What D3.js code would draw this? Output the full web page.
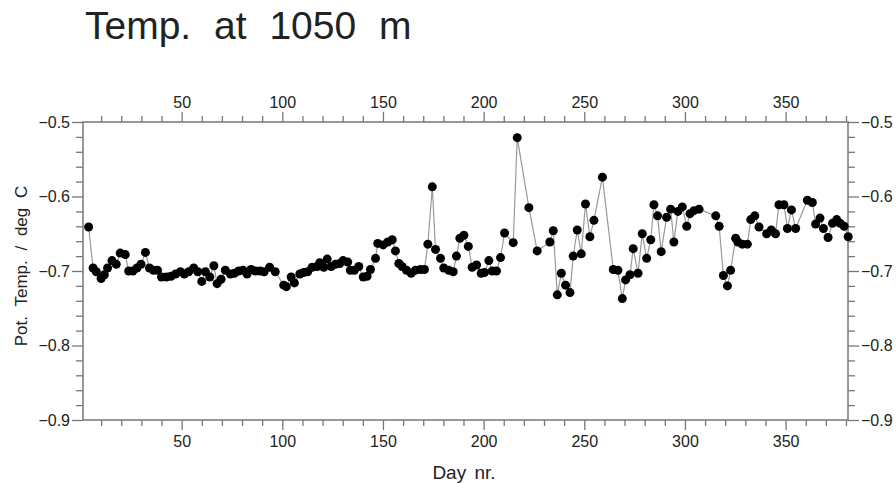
<!DOCTYPE html>
<html lang="en">
<head>
<meta charset="UTF-8">
<title>Temp. at 1050 m</title>
<script src="https://d3js.org/d3.v7.min.js"></script>
<style>
    body { margin: 0; background: #fff; }
    text { font-family: "Liberation Sans", Arial, sans-serif; fill: #222; }
    .axis path { display: none; }
    .axis line { stroke: #777; stroke-width: 1.3; }
</style>
</head>
<body>
<script>
    // day number of each sample
    const days = [
        3.8, 6, 7.6, 10, 11.6, 13.2, 15.4, 17.5, 19.5, 22, 23.7, 25.8, 27.8, 29.8, 32, 34, 36, 38, 40, 42.4,
        44.7, 47, 49.4, 51.3, 53.5, 56, 58, 60, 61.8, 64, 66, 67.6, 69.6, 71.7, 74.2, 76.2, 78.3, 80.5, 82.5, 84.5,
        86.6, 89, 91, 93.7, 96.5, 100.7, 102, 104.4, 106, 108.7, 110.6, 112.6, 114.8, 117.3, 118.6, 120.6, 122.3, 124.3, 126.4, 128.5,
        130.2, 132.5, 133.8, 135.8, 138, 140.2, 142.1, 143.8, 146.3, 147.4, 150.1, 152.4, 154.6, 156.2, 157.9, 159.5, 161.7, 164, 166.1, 168.6,
        170.6, 172.3, 174.5, 176.1, 178.6, 180.2, 182.7, 184.9, 186.5, 188.2, 190.2, 192.4, 194.3, 196.5, 198.8, 200.4, 202.6, 204.3, 206.4, 208.4,
        210.4, 214.7, 216.7, 222.5, 226.6, 232.9, 234.6, 236.6, 238.6, 240.7, 242.9, 244.5, 246.5, 248.5, 250.6, 252.8, 254.8, 259, 264.4, 266.7,
        268.9, 270.5, 272.7, 274.3, 276.7, 278.8, 281, 283, 284.6, 286.4, 288.2, 290.9, 292.9, 294.5, 296.5, 298.7, 300.9, 302.5, 304.5, 307,
        315.3, 317, 319.1, 321.1, 322.7, 325.2, 326.3, 328.5, 331, 332.7, 334.7, 336.8, 340.6, 342.9, 345, 346.7, 349.2, 350.9, 352.9, 355,
        360.8, 363.3, 364.9, 367.1, 368.8, 371.1, 373.3, 375.4, 377.1, 379.1, 381.1
    ];
    // potential temperature, deg C
    const temps = [
        -0.641, -0.696, -0.701, -0.710, -0.705, -0.696, -0.686, -0.691, -0.676, -0.678, -0.700, -0.700, -0.696, -0.691, -0.675, -0.696, -0.699, -0.699, -0.708, -0.708,
        -0.707, -0.704, -0.701, -0.704, -0.701, -0.696, -0.701, -0.714, -0.701, -0.708, -0.693, -0.717, -0.711, -0.699, -0.704, -0.703, -0.700, -0.699, -0.704, -0.698,
        -0.700, -0.700, -0.701, -0.695, -0.701, -0.719, -0.721, -0.708, -0.716, -0.704, -0.702, -0.701, -0.695, -0.694, -0.689, -0.695, -0.684, -0.694, -0.691, -0.690,
        -0.686, -0.688, -0.699, -0.699, -0.694, -0.708, -0.707, -0.698, -0.683, -0.663, -0.665, -0.661, -0.658, -0.673, -0.690, -0.694, -0.699, -0.703, -0.699, -0.698,
        -0.698, -0.664, -0.587, -0.671, -0.683, -0.696, -0.699, -0.701, -0.680, -0.656, -0.652, -0.667, -0.695, -0.692, -0.703, -0.702, -0.686, -0.700, -0.700, -0.682,
        -0.649, -0.662, -0.521, -0.615, -0.673, -0.661, -0.646, -0.732, -0.703, -0.719, -0.729, -0.680, -0.645, -0.677, -0.610, -0.654, -0.632, -0.574, -0.698, -0.699,
        -0.737, -0.712, -0.705, -0.670, -0.703, -0.650, -0.683, -0.658, -0.611, -0.626, -0.674, -0.628, -0.617, -0.661, -0.620, -0.614, -0.640, -0.623, -0.619, -0.617,
        -0.626, -0.640, -0.706, -0.720, -0.699, -0.656, -0.661, -0.664, -0.664, -0.631, -0.626, -0.641, -0.650, -0.645, -0.650, -0.611, -0.611, -0.643, -0.618, -0.643,
        -0.605, -0.608, -0.637, -0.629, -0.643, -0.655, -0.636, -0.631, -0.636, -0.640, -0.654
    ];
    const xMajor = [50, 100, 150, 200, 250, 300, 350];
    const yMajor = [-0.9, -0.8, -0.7, -0.6, -0.5];

    const width = 896, height = 484;
    const plot = {left: 83, right: 848, top: 122, bottom: 420};

    const data = days.map((d, i) => ({day: d, t: temps[i]}));

    const svg = d3.select("body").append("svg")
        .attr("width", width).attr("height", height);

    const x = d3.scaleLinear().domain([1, 381]).range([plot.left, plot.right]);
    const y = d3.scaleLinear().domain([-0.9, -0.5]).range([plot.bottom, plot.top]);

    const xMinor = d3.range(10, 381, 10).filter(v => v % 50 !== 0);
    const yMinor = d3.range(-0.9, -0.5, 0.02).map(v => +v.toFixed(2)).filter(v => Math.round(v * 100) % 10 !== 0);
    const fmtY = d3.format(".1f");

    // minor ticks
    svg.append("g").attr("class", "axis").attr("transform", `translate(0,${plot.bottom})`)
        .call(d3.axisBottom(x).tickValues(xMinor).tickSize(6).tickSizeOuter(0).tickFormat(""));
    svg.append("g").attr("class", "axis").attr("transform", `translate(0,${plot.top})`)
        .call(d3.axisTop(x).tickValues(xMinor).tickSize(6).tickSizeOuter(0).tickFormat(""));
    svg.append("g").attr("class", "axis").attr("transform", `translate(${plot.left},0)`)
        .call(d3.axisLeft(y).tickValues(yMinor).tickSize(7).tickSizeOuter(0).tickFormat(""));
    svg.append("g").attr("class", "axis").attr("transform", `translate(${plot.right},0)`)
        .call(d3.axisRight(y).tickValues(yMinor).tickSize(7).tickSizeOuter(0).tickFormat(""));

    // major ticks + labels
    const bottomAxis = svg.append("g").attr("class", "axis").attr("transform", `translate(0,${plot.bottom})`)
        .call(d3.axisBottom(x).tickValues(xMajor).tickSize(10).tickSizeOuter(0).tickPadding(6));
    const topAxis = svg.append("g").attr("class", "axis").attr("transform", `translate(0,${plot.top})`)
        .call(d3.axisTop(x).tickValues(xMajor).tickSize(10).tickSizeOuter(0).tickPadding(4));
    const leftAxis = svg.append("g").attr("class", "axis").attr("transform", `translate(${plot.left},0)`)
        .call(d3.axisLeft(y).tickValues(yMajor).tickSize(11).tickSizeOuter(0).tickPadding(2).tickFormat(fmtY));
    const rightAxis = svg.append("g").attr("class", "axis").attr("transform", `translate(${plot.right},0)`)
        .call(d3.axisRight(y).tickValues(yMajor).tickSize(11).tickSizeOuter(0).tickPadding(2).tickFormat(fmtY));
    [bottomAxis, topAxis, leftAxis, rightAxis].forEach(a =>
        a.selectAll("text").style("font-size", "16px").style("font-family", null).attr("fill", "#222"));

    // frame
    svg.append("rect")
        .attr("x", plot.left).attr("y", plot.top)
        .attr("width", plot.right - plot.left).attr("height", plot.bottom - plot.top)
        .attr("fill", "none").attr("stroke", "#777").attr("stroke-width", 1.5);

    // line + markers
    const line = d3.line().x(d => x(d.day)).y(d => y(d.t));
    svg.append("path").datum(data)
        .attr("d", line)
        .attr("fill", "none").attr("stroke", "#999").attr("stroke-width", 1.2);

    svg.append("g").selectAll("circle")
        .data(data)
        .join("circle")
        .attr("cx", d => x(d.day))
        .attr("cy", d => y(d.t))
        .attr("r", 4.5)
        .attr("fill", "#000");

    // titles
    svg.append("text")
        .attr("x", 85).attr("y", 39)
        .style("font-size", "39px")
        .style("word-spacing", "12px")
        .text("Temp. at 1050 m");

    svg.append("text")
        .attr("x", 464).attr("y", 479)
        .attr("text-anchor", "middle")
        .style("font-size", "19px")
        .style("word-spacing", "3px")
        .text("Day nr.");

    svg.append("text")
        .attr("transform", `translate(27,266) rotate(-90)`)
        .attr("text-anchor", "middle")
        .style("font-size", "17px")
        .style("word-spacing", "5px")
        .text("Pot. Temp. / deg C");
</script>
</body>
</html>
